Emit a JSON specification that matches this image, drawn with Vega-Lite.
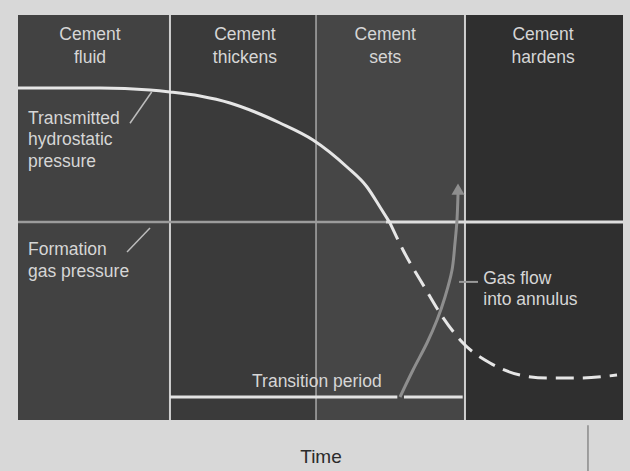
{
  "$schema": "https://vega.github.io/schema/vega-lite/v6.json",
  "width": 605,
  "height": 405,
  "autosize": {"type": "none"},
  "padding": {"left": 18, "top": 15, "right": 7, "bottom": 51},
  "background": "#d8d8d8",
  "config": {"view": {"stroke": null}, "font": "Liberation Sans"},
  "datasets": {
    "stages": [
      {"stage": "Cement fluid", "t": 0, "t2": 25.12},
      {"stage": "Cement thickens", "t": 25.12, "t2": 49.26},
      {"stage": "Cement sets", "t": 49.26, "t2": 73.88},
      {"stage": "Cement hardens", "t": 73.88, "t2": 100}
    ],
    "dividers": [
      {"t": 25.12, "kind": "main"},
      {"t": 49.26, "kind": "minor"},
      {"t": 73.88, "kind": "main"}
    ],
    "gasline": [
      {"part": "before", "t": 0, "t2": 60.8, "p": 48.9},
      {"part": "after", "t": 60.8, "t2": 100, "p": 48.9}
    ],
    "hydro": [
      {"phase": "solid", "t": 0, "p": 81.98},
      {"phase": "solid", "t": 13.55, "p": 81.98},
      {"phase": "solid", "t": 21.82, "p": 81.48},
      {"phase": "solid", "t": 25.12, "p": 80.99},
      {"phase": "solid", "t": 30.08, "p": 80.0},
      {"phase": "solid", "t": 35.04, "p": 78.27},
      {"phase": "solid", "t": 39.17, "p": 76.05},
      {"phase": "solid", "t": 43.31, "p": 73.33},
      {"phase": "solid", "t": 48.76, "p": 69.14},
      {"phase": "solid", "t": 54.38, "p": 62.47},
      {"phase": "solid", "t": 57.69, "p": 57.53},
      {"phase": "solid", "t": 59.83, "p": 52.59},
      {"phase": "solid", "t": 61.49, "p": 48.64},
      {"phase": "dashed", "t": 61.49, "p": 48.64},
      {"phase": "dashed", "t": 63.64, "p": 41.98},
      {"phase": "dashed", "t": 67.27, "p": 32.6},
      {"phase": "dashed", "t": 69.75, "p": 26.42},
      {"phase": "dashed", "t": 73.55, "p": 19.01},
      {"phase": "dashed", "t": 78.02, "p": 14.07},
      {"phase": "dashed", "t": 82.98, "p": 11.11},
      {"phase": "dashed", "t": 87.44, "p": 10.37},
      {"phase": "dashed", "t": 92.89, "p": 10.37},
      {"phase": "dashed", "t": 99.01, "p": 11.11}
    ],
    "transition": [
      {"t": 25.12, "t2": 62.7, "p": 5.68},
      {"t": 63.8, "t2": 73.5, "p": 5.68}
    ],
    "flow": [
      {"t": 63.14, "p": 5.68},
      {"t": 65.29, "p": 12.35},
      {"t": 67.6, "p": 19.01},
      {"t": 69.26, "p": 24.69},
      {"t": 70.58, "p": 30.37},
      {"t": 71.74, "p": 37.04},
      {"t": 72.23, "p": 43.7},
      {"t": 72.56, "p": 49.38},
      {"t": 72.73, "p": 55.8}
    ],
    "arrowhead": [{"t": 72.73, "p": 57.0}],
    "leaders": [
      {"t": 22.1, "p": 80.98, "t2": 18.51, "p2": 73.26},
      {"t": 21.82, "p": 47.41, "t2": 18.02, "p2": 41.48}
    ],
    "flowleader": [{"t": 72.9, "p": 34.1, "t2": 76.03, "p2": 34.1}],
    "labels": [
      {"label": "Cement", "t": 11.9, "p": 93.83, "pos": "center"},
      {"label": "fluid", "t": 11.9, "p": 88.15, "pos": "center"},
      {"label": "Cement", "t": 37.5, "p": 93.83, "pos": "center"},
      {"label": "thickens", "t": 37.5, "p": 88.15, "pos": "center"},
      {"label": "Cement", "t": 60.7, "p": 93.83, "pos": "center"},
      {"label": "sets", "t": 60.7, "p": 88.15, "pos": "center"},
      {"label": "Cement", "t": 86.78, "p": 93.83, "pos": "center"},
      {"label": "hardens", "t": 86.78, "p": 88.15, "pos": "center"},
      {"label": "Transition period", "t": 49.4, "p": 8.15, "pos": "center"},
      {"label": "Transmitted", "t": 1.65, "p": 73.2, "pos": "left"},
      {"label": "hydrostatic", "t": 1.65, "p": 67.8, "pos": "left"},
      {"label": "pressure", "t": 1.65, "p": 62.35, "pos": "left"},
      {"label": "Formation", "t": 1.65, "p": 40.86, "pos": "left"},
      {"label": "gas pressure", "t": 1.65, "p": 35.43, "pos": "left"},
      {"label": "Gas flow", "t": 76.9, "p": 33.7, "pos": "left"},
      {"label": "into annulus", "t": 76.9, "p": 28.4, "pos": "left"}
    ],
    "frame": [{"t": 94.21, "p": -1.3, "p2": -13}]
  },
  "layer": [
    {
      "data": {"name": "stages"},
      "mark": {"type": "rect"},
      "encoding": {
        "x": {"field": "t", "type": "quantitative", "scale": {"domain": [0, 100], "nice": false, "zero": false},
          "axis": {"title": "Time", "labels": false, "ticks": false, "domain": false, "grid": false,
            "titleFontSize": 19, "titleColor": "#2b2b2b", "titleFontWeight": "normal", "titlePadding": 27, "titleFont": "Liberation Sans"}},
        "x2": {"field": "t2"},
        "y": {"datum": 0, "type": "quantitative", "scale": {"domain": [0, 100], "nice": false, "zero": false}, "axis": null},
        "y2": {"datum": 100},
        "color": {"field": "stage", "type": "nominal",
          "scale": {"domain": ["Cement fluid", "Cement thickens", "Cement sets", "Cement hardens"],
            "range": ["#424242", "#3a3a3a", "#464646", "#2f2f2f"]}, "legend": null}
      }
    },
    {
      "data": {"name": "dividers"},
      "transform": [{"filter": "datum.kind === 'main'"}],
      "mark": {"type": "rule", "color": "#cfcfcf", "strokeWidth": 2},
      "encoding": {"x": {"field": "t", "type": "quantitative"}}
    },
    {
      "data": {"name": "dividers"},
      "transform": [{"filter": "datum.kind === 'minor'"}],
      "mark": {"type": "rule", "color": "#a8a8a8", "strokeWidth": 1.5},
      "encoding": {"x": {"field": "t", "type": "quantitative"}}
    },
    {
      "data": {"name": "gasline"},
      "transform": [{"filter": "datum.part === 'before'"}],
      "mark": {"type": "rule", "color": "#9c9c9c", "strokeWidth": 2.5},
      "encoding": {"x": {"field": "t", "type": "quantitative"}, "x2": {"field": "t2"}, "y": {"field": "p", "type": "quantitative"}}
    },
    {
      "data": {"name": "gasline"},
      "transform": [{"filter": "datum.part === 'after'"}],
      "mark": {"type": "rule", "color": "#dedede", "strokeWidth": 3},
      "encoding": {"x": {"field": "t", "type": "quantitative"}, "x2": {"field": "t2"}, "y": {"field": "p", "type": "quantitative"}}
    },
    {
      "data": {"name": "transition"},
      "mark": {"type": "rule", "color": "#e2e2e2", "strokeWidth": 3},
      "encoding": {"x": {"field": "t", "type": "quantitative"}, "x2": {"field": "t2"}, "y": {"field": "p", "type": "quantitative"}}
    },
    {
      "data": {"name": "hydro"},
      "transform": [{"filter": "datum.phase === 'solid'"}],
      "mark": {"type": "line", "color": "#e6e6e6", "strokeWidth": 3, "interpolate": "monotone"},
      "encoding": {"x": {"field": "t", "type": "quantitative"}, "y": {"field": "p", "type": "quantitative"}}
    },
    {
      "data": {"name": "hydro"},
      "transform": [{"filter": "datum.phase === 'dashed'"}],
      "mark": {"type": "line", "color": "#e6e6e6", "strokeWidth": 3, "interpolate": "monotone", "strokeDash": [18, 9]},
      "encoding": {"x": {"field": "t", "type": "quantitative"}, "y": {"field": "p", "type": "quantitative"}}
    },
    {
      "data": {"name": "flow"},
      "mark": {"type": "line", "color": "#8e8e8e", "strokeWidth": 3, "interpolate": "cardinal"},
      "encoding": {"x": {"field": "t", "type": "quantitative"}, "y": {"field": "p", "type": "quantitative"}}
    },
    {
      "data": {"name": "arrowhead"},
      "mark": {"type": "point", "shape": "triangle-up", "filled": true, "color": "#8e8e8e", "size": 170, "opacity": 1},
      "encoding": {"x": {"field": "t", "type": "quantitative"}, "y": {"field": "p", "type": "quantitative"}}
    },
    {
      "data": {"name": "leaders"},
      "mark": {"type": "rule", "color": "#bdbdbd", "strokeWidth": 1.5},
      "encoding": {"x": {"field": "t", "type": "quantitative"}, "y": {"field": "p", "type": "quantitative"}, "x2": {"field": "t2"}, "y2": {"field": "p2"}}
    },
    {
      "data": {"name": "flowleader"},
      "mark": {"type": "rule", "color": "#9a9a9a", "strokeWidth": 2},
      "encoding": {"x": {"field": "t", "type": "quantitative"}, "y": {"field": "p", "type": "quantitative"}, "x2": {"field": "t2"}, "y2": {"field": "p2"}}
    },
    {
      "data": {"name": "labels"},
      "transform": [{"filter": "datum.pos === 'center'"}],
      "mark": {"type": "text", "align": "center", "baseline": "alphabetic", "fontSize": 17.5, "color": "#d6d6d6", "font": "Liberation Sans"},
      "encoding": {"x": {"field": "t", "type": "quantitative"}, "y": {"field": "p", "type": "quantitative"}, "text": {"field": "label"}}
    },
    {
      "data": {"name": "labels"},
      "transform": [{"filter": "datum.pos === 'left'"}],
      "mark": {"type": "text", "align": "left", "baseline": "alphabetic", "fontSize": 17.5, "color": "#d6d6d6", "font": "Liberation Sans"},
      "encoding": {"x": {"field": "t", "type": "quantitative"}, "y": {"field": "p", "type": "quantitative"}, "text": {"field": "label"}}
    },
    {
      "data": {"name": "frame"},
      "mark": {"type": "rule", "color": "#8a8a8a", "strokeWidth": 1.5, "clip": false},
      "encoding": {"x": {"field": "t", "type": "quantitative"}, "y": {"field": "p", "type": "quantitative"}, "y2": {"field": "p2"}}
    }
  ]
}
